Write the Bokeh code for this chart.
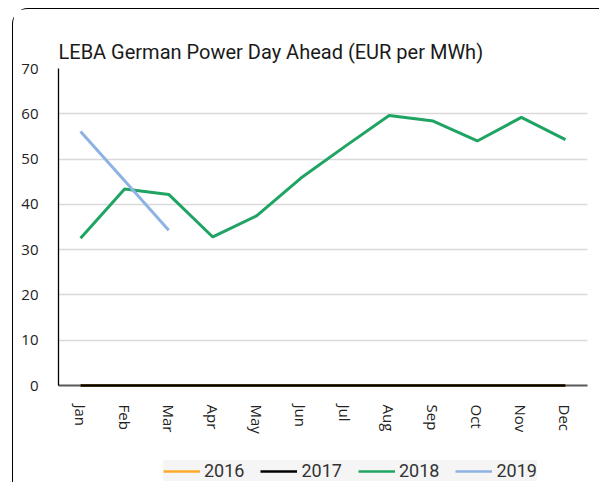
from bokeh.plotting import figure
from bokeh.layouts import column
from bokeh.models import (FactorRange, Range1d, FixedTicker, Legend, LegendItem)
from bokeh.embed import file_html
from bokeh.resources import INLINE
import math

months = ["Jan", "Feb", "Mar", "Apr", "May", "Jun", "Jul", "Aug", "Sep", "Oct", "Nov", "Dec"]
y2016 = [0, 0, 0, 0, 0, 0, 0, 0, 0, 0, 0, 0]
y2017 = [0, 0, 0, 0, 0, 0, 0, 0, 0, 0, 0, 0]
y2018 = [32.5, 43.4, 42.2, 32.8, 37.5, 45.8, 52.8, 59.6, 58.4, 54.0, 59.2, 54.3]
months_2019 = ["Jan", "Feb", "Mar"]
y2019 = [56.1, 45.2, 34.3]
y_ticks = [0, 10, 20, 30, 40, 50, 60, 70]
years = ["2016", "2017", "2018", "2019"]
colors = ["#ffa92b", "black", "#1fa463", "#8db3e2"]

title_text = "LEBA German Power Day Ahead (EUR per MWh)"

p = figure(width=586, height=432, output_backend="svg", toolbar_location=None,
           x_range=FactorRange(factors=months, range_padding=0),
           y_range=Range1d(0, 70),
           min_border_left=45, min_border_right=12, min_border_top=59, min_border_bottom=56)

p.title.text = title_text
p.title.text_font = "Roboto"
p.title.text_font_size = "20px"
p.title.text_font_style = "normal"
p.title.text_color = "#1a1a1a"

p.outline_line_color = None
p.background_fill_color = "white"
p.border_fill_color = "white"

p.xgrid.grid_line_color = None
p.ygrid.grid_line_color = "#d9d9d9"
p.ygrid.grid_line_width = 1.5
p.yaxis.ticker = FixedTicker(ticks=y_ticks)
p.yaxis.axis_line_color = "black"
p.yaxis.axis_line_width = 1.3
p.yaxis.major_tick_line_color = None
p.yaxis.minor_tick_line_color = None
p.yaxis.major_label_standoff = 14
p.yaxis.major_label_text_font = "Open Sans"
p.yaxis.major_label_text_font_size = "15px"
p.yaxis.major_label_text_color = "#222222"

p.xaxis.axis_line_color = "#595959"
p.xaxis.axis_line_width = 2
p.xaxis.major_tick_line_color = None
p.xaxis.minor_tick_line_color = None
p.xaxis.major_label_orientation = -math.pi / 2
p.xaxis.major_label_standoff = 13
p.xaxis.major_label_text_font = "Open Sans"
p.xaxis.major_label_text_font_size = "15px"
p.xaxis.major_label_text_color = "#222222"

r16 = p.line(months, y2016, line_color=colors[0], line_width=2.5)
r17 = p.line(months, y2017, line_color=colors[1], line_width=2.5)
r18 = p.line(months, y2018, line_color=colors[2], line_width=3)
r19 = p.line(months_2019, y2019, line_color=colors[3], line_width=3)
for r in (r16, r17):
    r.level = "overlay"

# legend strip below the chart (its lines fall outside its own range, only the key shows)
p2 = figure(width=586, height=42, output_backend="svg", toolbar_location=None,
            x_range=FactorRange(factors=months, range_padding=0),
            y_range=Range1d(100, 200), title=None,
            x_axis_location=None, y_axis_location=None,
            min_border_left=0, min_border_right=0, min_border_top=0, min_border_bottom=0)
p2.outline_line_color = None
p2.background_fill_color = "white"
p2.border_fill_color = "white"
p2.xgrid.visible = False
p2.ygrid.visible = False
k16 = p2.line(months, y2016, line_color=colors[0], line_width=2.5)
k17 = p2.line(months, y2017, line_color=colors[1], line_width=2.5)
k18 = p2.line(months, y2018, line_color=colors[2], line_width=2.5)
k19 = p2.line(months_2019, y2019, line_color=colors[3], line_width=2.5)

legend = Legend(items=[LegendItem(label=years[0], renderers=[k16]),
                       LegendItem(label=years[1], renderers=[k17]),
                       LegendItem(label=years[2], renderers=[k18]),
                       LegendItem(label=years[3], renderers=[k19])],
                orientation="horizontal", location=(105, 2),
                background_fill_color="#f5f5f5", background_fill_alpha=1,
                border_line_color=None, padding=7, spacing=16,
                glyph_width=37, glyph_height=20, label_standoff=4,
                label_text_font="Roboto", label_text_font_size="18px",
                label_text_color="#333333", margin=0)
p2.add_layout(legend, "center")

layout = column(p, p2, spacing=0,
                styles={"margin-left": "12px", "margin-top": "8px",
                        "border-top": "1.3px solid black",
                        "border-left": "1.3px solid black",
                        "border-top-left-radius": "16px",
                        "box-sizing": "border-box"})

open("out.html", "w").write(file_html(layout, INLINE))
